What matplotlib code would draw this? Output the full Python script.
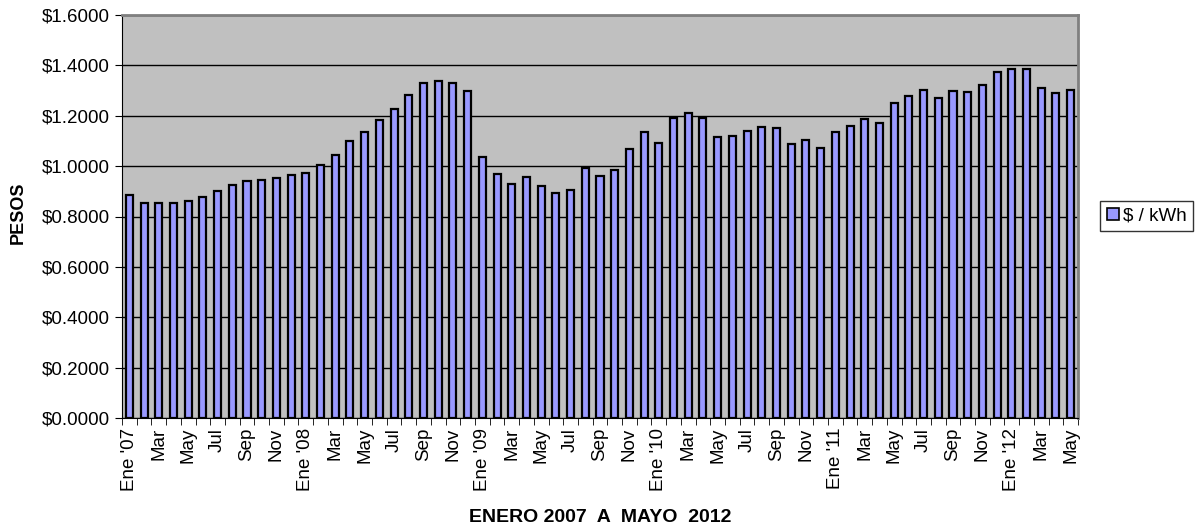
import matplotlib.pyplot as plt
import numpy as np
from matplotlib.patches import Patch

plt.rcParams['font.family'] = ['Liberation Sans', 'DejaVu Sans']

# Monthly price, Jan 2007 .. May 2012
precio = [
    0.885, 0.854, 0.853, 0.854, 0.862, 0.877, 0.902, 0.925, 0.939, 0.946, 0.952, 0.966,
    0.972, 1.003, 1.044, 1.098, 1.134, 1.183, 1.225, 1.283, 1.331, 1.339, 1.331, 1.299,
    1.038, 0.970, 0.930, 0.958, 0.921, 0.893, 0.906, 0.993, 0.960, 0.985, 1.069, 1.134,
    1.091, 1.193, 1.210, 1.190, 1.116, 1.119, 1.140, 1.156, 1.151, 1.089, 1.105, 1.070,
    1.136, 1.161, 1.189, 1.171, 1.249, 1.279, 1.302, 1.269, 1.300, 1.296, 1.321, 1.372,
    1.385, 1.386, 1.311, 1.291, 1.302,
]
meses = ["Ene", "Feb", "Mar", "Abr", "May", "Jun", "Jul", "Ago", "Sep", "Oct", "Nov", "Dic"]
anios = ["07", "08", "09", "10", "11", "12"]
serie = "$ / kWh"

etiquetas = []
for i in range(len(precio)):
    m = meses[i % 12]
    if i % 12 == 0:
        m = m + " '" + anios[i // 12]
    etiquetas.append(m)

fs = 13.5

fig = plt.figure(figsize=(12, 5.31), dpi=100)
ax = fig.add_axes([122 / 1200, 1 - 418 / 531, 956 / 1200, 403 / 531])
ax.set_facecolor("#C0C0C0")

x = np.arange(len(precio))
ax.bar(x, precio, width=0.48, color="#9999FF", edgecolor="black", linewidth=1.6, zorder=3)

ax.set_ylim(0, 1.6)
ax.set_xlim(-0.5, len(precio) - 0.5)
yt = np.arange(0, 1.61, 0.2)
ax.set_yticks(yt)
ax.set_yticklabels(["$%.4f" % v for v in yt], fontsize=fs)
ax.yaxis.grid(True, color="black", linewidth=1, zorder=1)
ax.set_axisbelow(True)

ax.set_xticks(x[::2])
ax.set_xticklabels(etiquetas[::2], rotation=90, fontsize=fs)
ax.set_xticks(np.arange(-0.5, len(precio), 1), minor=True)
ax.tick_params(axis="x", which="major", length=0, pad=7)
ax.tick_params(axis="x", which="minor", length=5, direction="out", color="black")
ax.tick_params(axis="y", length=5, direction="out", color="black", pad=4)

for s in ["top", "right"]:
    ax.spines[s].set_color("#808080")
    ax.spines[s].set_linewidth(2)
ax.spines["left"].set_color("black")
ax.spines["bottom"].set_color("black")

ax.set_ylabel("PESOS", fontsize=fs - 0.5, fontweight="bold")
ax.yaxis.set_label_coords((18 - 122) / 956, 0.51)
ax.set_xlabel("ENERO 2007  A  MAYO  2012", fontsize=fs + 0.5, fontweight="bold")
ax.xaxis.set_label_coords(0.5, (418 - 517) / 403)
ax.xaxis.label.set_va("center")
ax.yaxis.label.set_va("center")

fig.legend(handles=[Patch(facecolor="#9999FF", edgecolor="black", linewidth=1.2, label=serie)],
           loc="center", bbox_to_anchor=(1146.5 / 1200, 1 - 216 / 531), fontsize=fs,
           frameon=True, fancybox=False, edgecolor="black", handlelength=0.65,
           handleheight=0.65, handletextpad=0.2, borderpad=0.35, borderaxespad=0)

fig.savefig("out.png", dpi=100, facecolor="white")
